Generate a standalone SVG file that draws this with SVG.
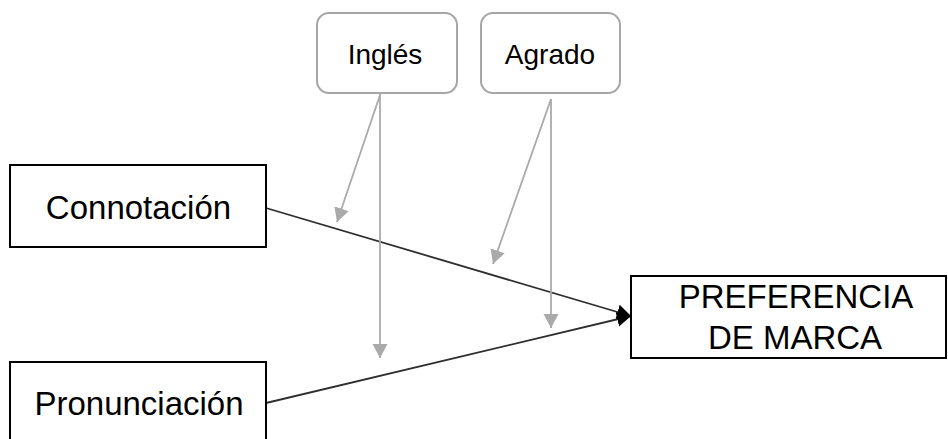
<svg xmlns="http://www.w3.org/2000/svg" width="948" height="439" viewBox="0 0 948 439">
  <style>
    .box { fill: #ffffff; stroke: #000000; stroke-width: 2; }
    .mod { fill: #ffffff; stroke: #a6a6a6; stroke-width: 2; }
    .lbl { font-family: "Liberation Sans", Arial, sans-serif; fill: #000000; text-anchor: middle; }
    .big { font-size: 33px; }
    .small { font-size: 28px; }
    .main { stroke: #2e2e2e; stroke-width: 1.8; fill: none; }
    .gray { stroke: #aaaaaa; stroke-width: 1.8; fill: none; }
  </style>
  <defs>
    <marker id="headBlack" markerUnits="userSpaceOnUse" markerWidth="16" markerHeight="18" viewBox="0 0 16 18" refX="14" refY="9" orient="auto">
      <path d="M0,1.5 L14,9 L0,16.5 Z" fill="#000000"/>
    </marker>
    <marker id="headGray" markerUnits="userSpaceOnUse" markerWidth="16" markerHeight="18" viewBox="0 0 16 18" refX="14" refY="9" orient="auto">
      <path d="M0,1.5 L14,9 L0,16.5 Z" fill="#aaaaaa"/>
    </marker>
  </defs>

  <g id="connectors">
    <line class="main" x1="266" y1="208" x2="631" y2="316" marker-end="url(#headBlack)"/>
    <line class="main" x1="266" y1="403" x2="631" y2="316" marker-end="url(#headBlack)"/>
    <line class="gray" x1="380" y1="95" x2="337" y2="222" marker-end="url(#headGray)"/>
    <line class="gray" x1="380" y1="94" x2="380" y2="358" marker-end="url(#headGray)"/>
    <line class="gray" x1="551" y1="99" x2="493" y2="264" marker-end="url(#headGray)"/>
    <line class="gray" x1="551" y1="99" x2="551" y2="328" marker-end="url(#headGray)"/>
  </g>

  <g id="ingles">
    <rect class="mod" x="317" y="13" width="140" height="80" rx="12" ry="12"/>
    <text class="lbl small" x="385" y="64">Inglés</text>
  </g>

  <g id="agrado">
    <rect class="mod" x="481" y="13" width="139" height="80" rx="12" ry="12"/>
    <text class="lbl small" x="550" y="64">Agrado</text>
  </g>

  <g id="connotacion">
    <rect class="box" x="10" y="165" width="256" height="82"/>
    <text class="lbl big" x="138.5" y="219">Connotación</text>
  </g>

  <g id="pronunciacion">
    <rect class="box" x="10" y="362" width="256" height="90"/>
    <text class="lbl big" x="139" y="415">Pronunciación</text>
  </g>

  <g id="preferencia">
    <rect class="box" x="631" y="276" width="315" height="82"/>
    <text class="lbl big" x="796" y="308">PREFERENCIA</text>
    <text class="lbl big" x="795" y="349">DE MARCA</text>
  </g>
</svg>
